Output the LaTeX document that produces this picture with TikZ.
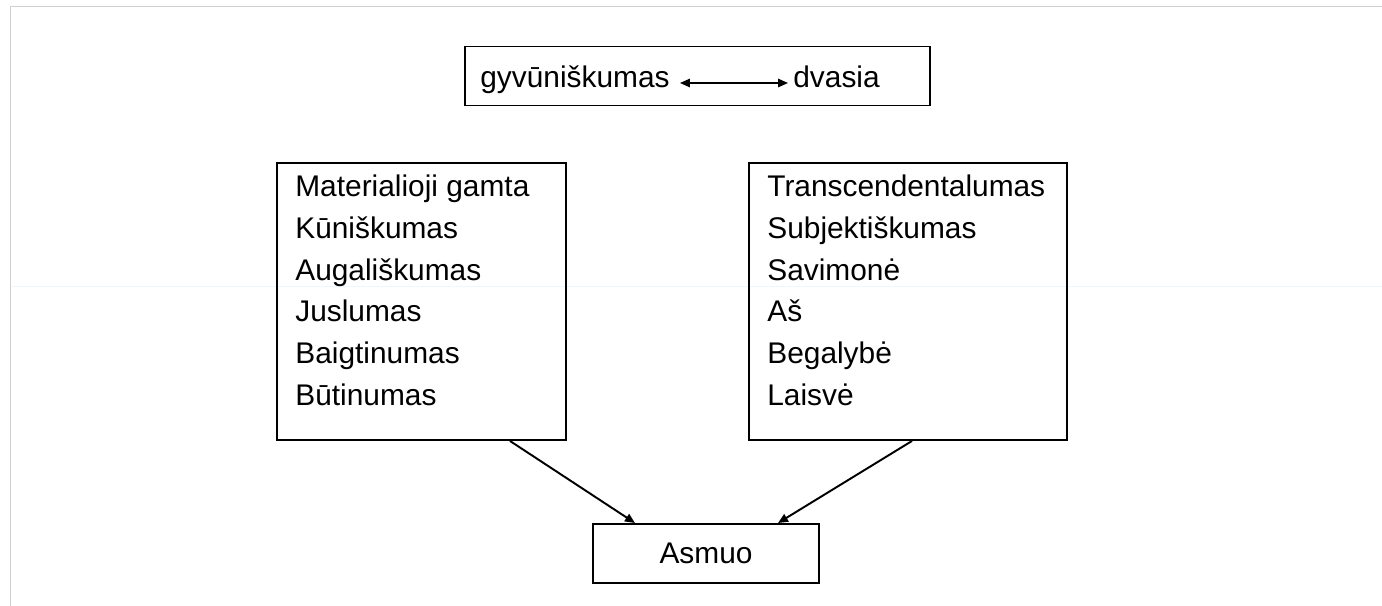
\documentclass[tikz,border=0pt]{standalone}
\usepackage{fontspec}
\setmainfont{Liberation Sans}
\usetikzlibrary{arrows.meta}
\tikzset{
  box/.style={draw, line width=1.1pt, inner sep=0pt},
  word/.style={inner sep=0pt, text height=0.45cm, text depth=0.25cm},
  lines/.style={inner sep=0pt, align=left, anchor=north west},
  tip/.style={-{Triangle[length=0.2cm,width=0.17cm]}, line width=1.1pt}
}
\begin{document}
\begin{tikzpicture}[font=\fontsize{17}{23.7}\selectfont]
    \useasboundingbox (0,0) rectangle (27.64,12.12);
    % faint frame of the scan
    \draw [color=black!18, line width=0.6pt] (0.21,0) -- (0.21,11.99) -- (27.64,11.99);
    \draw [color=cyan!8, line width=0.5pt] (0.21,6.4) -- (27.64,6.4);
    % top box
    \node [box, minimum width=9.3cm, minimum height=1.18cm] (top) at (13.95,10.6) {};
    \node [word, anchor=west] (gyv) at (9.6,10.46) {gyvūniškumas};
    \node [word, anchor=west] (dvasia) at (15.86,10.46) {dvasia};
    \draw [{Triangle[length=0.2cm,width=0.17cm]}-{Triangle[length=0.2cm,width=0.17cm]}, line width=0.9pt, shorten <=0.2cm, shorten >=0.1cm] (gyv.east) -- (dvasia.west);
    % the two lists
    \node [box, minimum width=5.78cm, minimum height=5.54cm] (gamta) at (8.43,6.09) {};
    \node [lines] (gamtatxt) at (5.9,8.62) {Materialioji gamta\\Kūniškumas\\Augališkumas\\Juslumas\\Baigtinumas\\Būtinumas};
    \node [box, minimum width=6.36cm, minimum height=5.54cm] (trans) at (18.16,6.09) {};
    \node [lines] (transtxt) at (15.34,8.62) {Transcendentalumas\\Subjektiškumas\\Savimonė\\Aš\\Begalybė\\Laisvė};
    % person
    \node [box, minimum width=4.52cm, minimum height=1.18cm] (asmuo) at (14.12,1.05) {Asmuo};
    \draw [tip] ([xshift=1.77cm]gamta.south) -- ([xshift=-1.42cm]asmuo.north);
    \draw [tip] ([xshift=0.08cm]trans.south) -- ([xshift=1.44cm]asmuo.north);
  \end{tikzpicture}
\end{document}
